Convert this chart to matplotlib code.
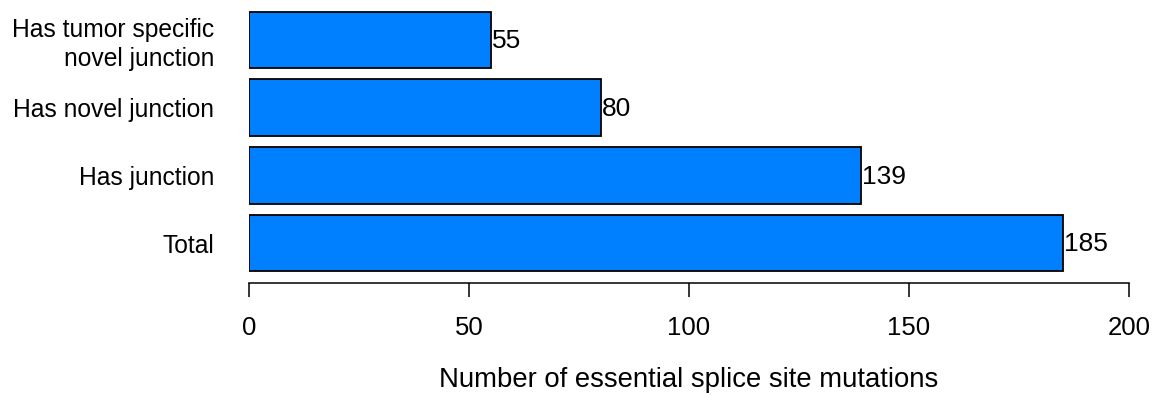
import matplotlib
matplotlib.use("Agg")
import matplotlib.pyplot as plt

categories = ["Total", "Has junction", "Has novel junction",
              "Has tumor specific\nnovel junction"]
counts = [185, 139, 80, 55]
xticks = [0, 50, 100, 150, 200]

plt.rcParams["font.family"] = ["Liberation Sans", "DejaVu Sans"]

W, H = 1157, 396
fig = plt.figure(figsize=(W / 100, H / 100), dpi=100)
# plot region: x data 0..200 spans pixels 249..1129, bottom edge at the axis line
left, right = 249 / W, 1129 / W
bottom, top = (H - 283) / H, 1.0
ax = fig.add_axes([left, bottom, right - left, top - bottom])

pos = list(range(len(categories)))
ax.barh(pos, counts, height=0.833, color="#0080FF", edgecolor="black",
        linewidth=1.3)

for p, v in zip(pos, counts):
    ax.text(v + 0.3, p - 0.02, str(v), ha="left", va="center", fontsize=19)

ax.set_xlim(0, 200)
ax.set_ylim(-0.59, 3.59)
ax.set_yticks(pos)
ax.set_yticklabels(categories, fontsize=17.7, ha="right", linespacing=1.25)
ax.tick_params(axis="y", length=0, pad=25)
ax.set_xticks(xticks)
ax.set_xticklabels([str(t) for t in xticks], fontsize=18.5)
ax.tick_params(axis="x", length=10, width=1.1, pad=13.5, direction="out")

for s in ["top", "right", "left"]:
    ax.spines[s].set_visible(False)
ax.spines["bottom"].set_linewidth(1.1)

ax.set_xlabel("Number of essential splice site mutations", fontsize=19.8,
              labelpad=20)

fig.savefig("out.png", dpi=100)
